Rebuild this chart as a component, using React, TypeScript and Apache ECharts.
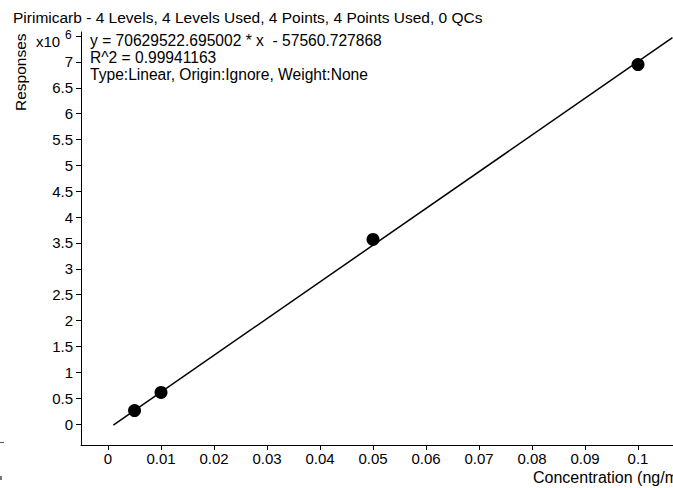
import React, { useEffect, useRef } from "react";
import * as echarts from "echarts";

const titleText = "Pirimicarb - 4 Levels, 4 Levels Used, 4 Points, 4 Points Used, 0 QCs";
const equationLines = [
  "y = 70629522.695002 * x  - 57560.727868",
  "R^2 = 0.99941163",
  "Type:Linear, Origin:Ignore, Weight:None",
];
const equationTops = [32, 49, 66.5];
const concentrations = [0.005, 0.01, 0.05, 0.1];
const responses = [0.26, 0.61, 3.57, 6.95];
const fitX = [0.001, 0.1065];
const fitY = [-0.02, 7.47];
const xTicks = [0, 0.01, 0.02, 0.03, 0.04, 0.05, 0.06, 0.07, 0.08, 0.09, 0.1];
const yTicks = [0, 0.5, 1, 1.5, 2, 2.5, 3, 3.5, 4, 4.5, 5, 5.5, 6, 6.5, 7, 7.5];

const FONT = "'Liberation Sans', Arial, sans-serif";

export default function App() {
  const ref = useRef<HTMLDivElement>(null);
  useEffect(() => {
    document.body.style.margin = "0";
    const chart = echarts.init(ref.current!, null, { renderer: "svg" });
    chart.setOption({
      animation: false,
      backgroundColor: "#fff",
      textStyle: { fontFamily: FONT },
      grid: { left: 81, right: 0, top: 32, bottom: 43, containLabel: false },
      xAxis: {
        type: "value",
        min: -0.0051,
        max: 0.1066,
        axisLine: { show: true, onZero: false, lineStyle: { color: "#000", width: 1 } },
        axisTick: { show: true, length: 5, customValues: xTicks, lineStyle: { color: "#000" } },
        axisLabel: {
          customValues: xTicks,
          color: "#000",
          fontSize: 15,
          fontFamily: FONT,
          margin: 6,
          formatter: (v: number) => String(Math.round(v * 100) / 100),
        },
        splitLine: { show: false },
      },
      yAxis: {
        type: "value",
        min: -0.406,
        max: 7.58,
        axisLine: { show: true, onZero: false, lineStyle: { color: "#000", width: 1 } },
        axisTick: { show: true, length: 5, customValues: yTicks, lineStyle: { color: "#000" } },
        axisLabel: {
          customValues: yTicks,
          color: "#000",
          fontSize: 15,
          fontFamily: FONT,
          margin: 8,
          formatter: (v: number) => (v === 7.5 ? "" : String(v)),
        },
        splitLine: { show: false },
      },
      graphic: [
        { type: "text", left: 13, top: 9, style: { text: titleText, font: `15.5px ${FONT}`, fill: "#000" } },
        ...equationLines.map((t, i) => ({
          type: "text",
          left: 90,
          top: equationTops[i],
          style: { text: t, font: `15.6px ${FONT}`, lineHeight: 16, fill: "#000" },
        })),
        { type: "text", x: 36, y: 34, style: { text: "x10", font: `15px ${FONT}`, fill: "#000" } },
        { type: "text", x: 65, y: 29, style: { text: "6", font: `12px ${FONT}`, fill: "#000" } },
        {
          type: "text",
          x: 12,
          y: 111,
          rotation: Math.PI / 2,
          style: { text: "Responses", font: `15.5px ${FONT}`, fill: "#000" },
        },
        { type: "text", x: 533, y: 469, style: { text: "Concentration (ng/mL)", font: `16px ${FONT}`, fill: "#000" } },
        { type: "line", shape: { x1: 0, y1: 442.5, x2: 4, y2: 442.5 }, style: { stroke: "#555", lineWidth: 1 } },
        { type: "rect", shape: { x: 0, y: 476, width: 2, height: 4 }, style: { fill: "#777" } },
      ],
      series: [
        {
          type: "line",
          data: fitX.map((x, i) => [x, fitY[i]]),
          showSymbol: false,
          lineStyle: { color: "#000", width: 1.5 },
          silent: true,
        },
        {
          type: "scatter",
          data: concentrations.map((x, i) => [x, responses[i]]),
          symbolSize: 13,
          itemStyle: { color: "#000", opacity: 1 },
        },
      ],
    });
    return () => chart.dispose();
  }, []);
  return <div ref={ref} style={{ width: 673, height: 488 }} />;
}
